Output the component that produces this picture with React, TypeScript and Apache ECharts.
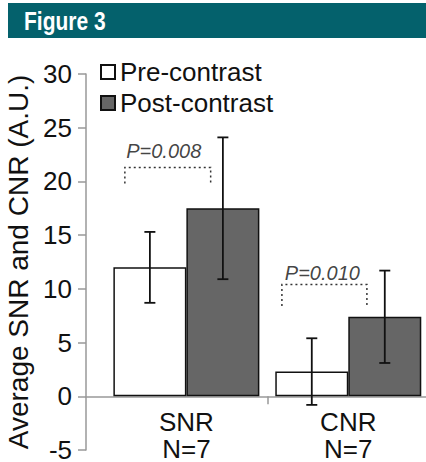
import React, { useEffect, useRef } from "react";
import * as echarts from "echarts";

const categories = ["SNR\nN=7", "CNR\nN=7"];
const categoryX = [1, 2];
const preMeans = [12.0, 2.3];
const preSD = [3.3, 3.1];
const postMeans = [17.5, 7.4];
const postSD = [6.6, 4.3];
const seriesNames = ["Pre-contrast", "Post-contrast"];
const yTicks = { min: -5, max: 30, interval: 5 };
const pLabels = ["P=0.008", "P=0.010"];
const pLabelPos = [
  [0.86, 22.8],
  [1.84, 11.5],
];
const bracketX = [
  [0.62, 1.15],
  [1.59, 2.115],
];
const bracketY = [
  [19.8, 21.3],
  [8.4, 10.4],
];
const groupDivider = [1.5];

const FONT = "'Liberation Sans', Arial, Helvetica, sans-serif";
const BAR_W = 73;
const GRID_TOP = 74;
const GRID_BOTTOM = 12;
const H = 462;

export default function App() {
  const ref = useRef<HTMLDivElement>(null);

  useEffect(() => {
    if (!ref.current) return;
    const chart = echarts.init(ref.current, null, { renderer: "svg" });

    const errData = (means: number[], sd: number[]) =>
      categoryX.map((x, i) => [x, means[i] - sd[i], means[i] + sd[i]]);

    const errSeries = (name: string, data: number[][], offset: number) => ({
      type: "custom",
      name: name + "-err",
      data,
      z: 5,
      silent: true,
      renderItem: (params: any, api: any) => {
        const x = api.value(0);
        const lo = api.coord([x, api.value(1)]);
        const hi = api.coord([x, api.value(2)]);
        const cx = lo[0] + offset;
        const cap = 5.5;
        const style = { stroke: "#111", lineWidth: 1.8 };
        return {
          type: "group",
          children: [
            { type: "line", shape: { x1: cx, y1: lo[1], x2: cx, y2: hi[1] }, style },
            { type: "line", shape: { x1: cx - cap, y1: lo[1], x2: cx + cap, y2: lo[1] }, style },
            { type: "line", shape: { x1: cx - cap, y1: hi[1], x2: cx + cap, y2: hi[1] }, style },
          ],
        };
      },
    });

    const bracketData = bracketX.map((bx, i) => ({
      coords: [
        [bx[0], bracketY[i][0]],
        [bx[0], bracketY[i][1]],
        [bx[1], bracketY[i][1]],
        [bx[1], bracketY[i][0]],
      ],
    }));

    // distance (px) from grid bottom (y = min) up to y = 0
    const plotH = H - GRID_TOP - GRID_BOTTOM;
    const zeroOffset = (plotH * (0 - yTicks.min)) / (yTicks.max - yTicks.min);

    chart.setOption({
      animation: false,
      backgroundColor: "#fff",
      textStyle: { fontFamily: FONT },
      graphic: [
        {
          type: "rect",
          shape: { x: 8, y: 3, width: 418, height: 35 },
          style: { fill: "#04616c" },
          silent: true,
        },
        {
          type: "text",
          x: 24,
          y: 21,
          scaleX: 0.84,
          style: {
            text: "Figure 3",
            fill: "#fff",
            fontSize: 25,
            fontWeight: "bold",
            fontFamily: FONT,
            verticalAlign: "middle",
          },
          silent: true,
        },
      ],
      legend: {
        orient: "vertical",
        left: 95,
        top: 54,
        itemWidth: 14,
        itemHeight: 14,
        itemGap: 5,
        icon: "rect",
        data: seriesNames,
        textStyle: { fontSize: 26, color: "#111", fontFamily: FONT },
      },
      grid: {
        left: 86,
        right: 0,
        top: GRID_TOP,
        bottom: GRID_BOTTOM,
        containLabel: false,
        outerBoundsMode: "none",
      },
      xAxis: {
        type: "value",
        min: 0.38,
        max: 2.48,
        offset: -zeroOffset,
        splitLine: { show: false },
        axisLine: { show: true, onZero: false, lineStyle: { color: "#999", width: 1.5 } },
        axisTick: {
          show: true,
          customValues: groupDivider,
          length: 8,
          lineStyle: { color: "#999", width: 1.5 },
        },
        axisLabel: {
          customValues: categoryX,
          formatter: (v: number) => categories[categoryX.indexOf(v)] ?? "",
          fontSize: 26,
          lineHeight: 27,
          color: "#111",
          margin: 12,
          fontFamily: FONT,
        },
      },
      yAxis: {
        type: "value",
        min: yTicks.min,
        max: yTicks.max,
        interval: yTicks.interval,
        splitLine: { show: false },
        axisLine: { show: true, lineStyle: { color: "#999", width: 1.5 } },
        axisTick: { show: true, length: 8, lineStyle: { color: "#999", width: 1.5 } },
        axisLabel: { fontSize: 26, color: "#111", margin: 14, fontFamily: FONT },
        name: "Average SNR and CNR (A.U.)",
        nameLocation: "middle",
        nameGap: 51,
        nameTextStyle: { fontSize: 28, color: "#111", fontFamily: FONT },
      },
      series: [
        {
          type: "bar",
          name: seriesNames[0],
          data: categoryX.map((x, i) => [x, preMeans[i]]),
          barWidth: BAR_W,
          barGap: "0%",
          itemStyle: { color: "#fff", borderColor: "#111", borderWidth: 1.5 },
        },
        {
          type: "bar",
          name: seriesNames[1],
          data: categoryX.map((x, i) => [x, postMeans[i]]),
          barWidth: BAR_W,
          barGap: "0%",
          itemStyle: { color: "#666", borderColor: "#111", borderWidth: 1.5 },
        },
        errSeries(seriesNames[0], errData(preMeans, preSD), -BAR_W / 2),
        errSeries(seriesNames[1], errData(postMeans, postSD), BAR_W / 2),
        {
          type: "lines",
          coordinateSystem: "cartesian2d",
          polyline: true,
          silent: true,
          data: bracketData,
          lineStyle: { color: "#333", width: 1.5, type: [2, 3], opacity: 1 },
        },
        {
          type: "scatter",
          silent: true,
          symbolSize: 1,
          itemStyle: { color: "rgba(0,0,0,0)" },
          data: pLabelPos.map((p, i) => ({ value: p, name: pLabels[i] })),
          label: {
            show: true,
            position: "inside",
            formatter: (p: any) => p.name,
            fontSize: 20,
            fontStyle: "italic",
            color: "#111",
            fontFamily: FONT,
          },
        },
      ],
    });

    return () => chart.dispose();
  }, []);

  return (
    <div
      ref={ref}
      style={{ position: "absolute", left: 0, top: 0, width: 426, height: 462 }}
    />
  );
}
